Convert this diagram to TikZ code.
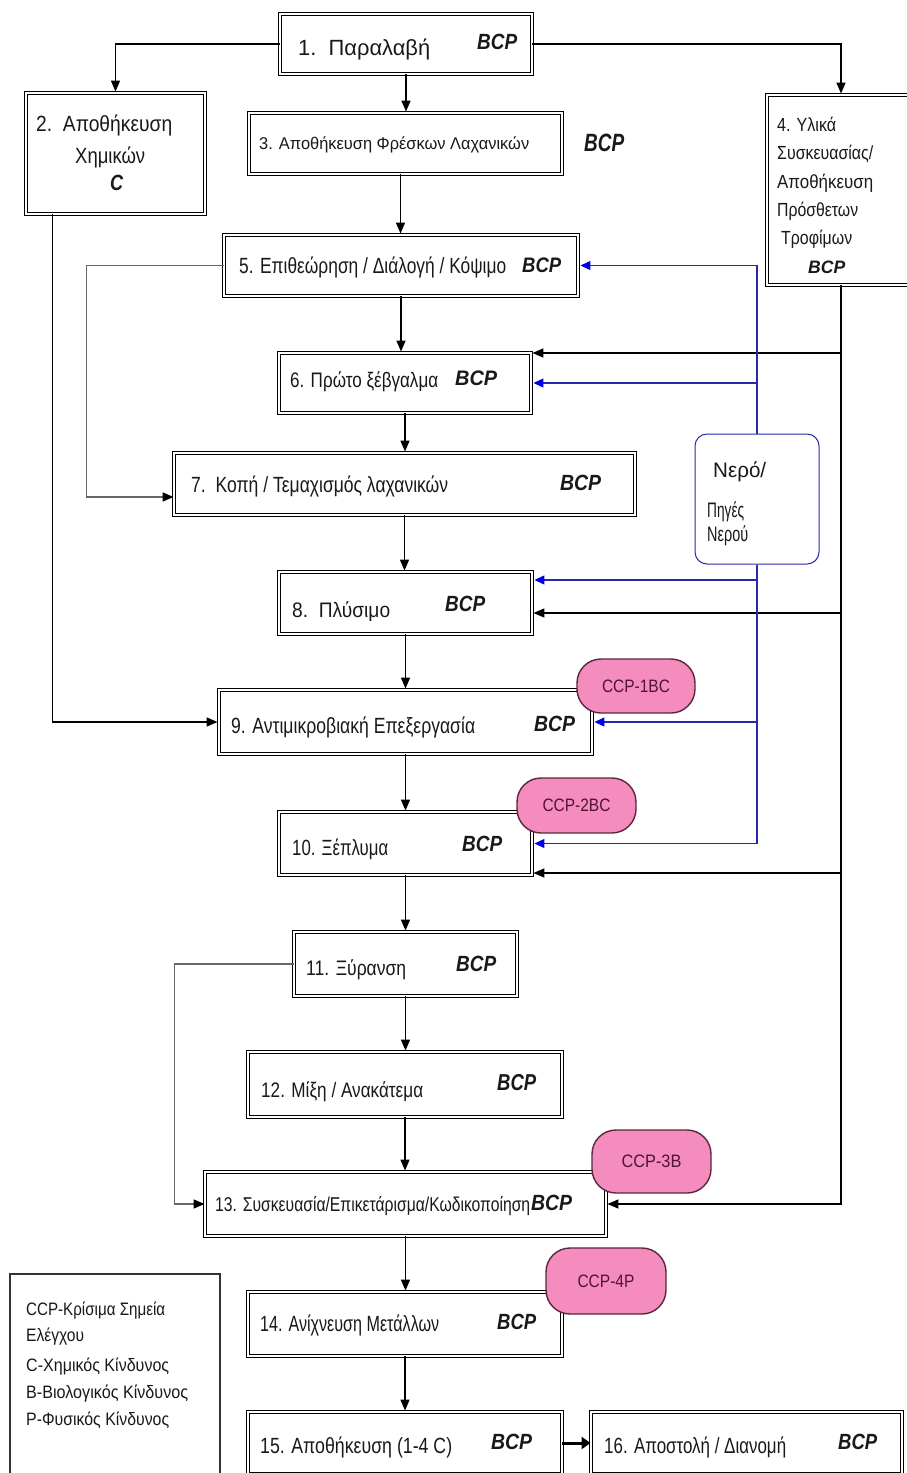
\documentclass[tikz,border=0pt]{standalone}
\usepackage{fontspec}
\setmainfont{Liberation Sans}
\usepackage{graphicx}
\usetikzlibrary{arrows.meta,shadows,calc}
\newcommand{\tw}[2]{\resizebox{#1pt}{\height}{#2}}
\definecolor{ccpfill}{RGB}{244,140,190}
\definecolor{ccpline}{RGB}{90,40,60}
\definecolor{ccptext}{RGB}{80,20,50}
\definecolor{wline}{RGB}{40,40,170}
\definecolor{warrow}{RGB}{0,0,230}
\begin{document}
\begin{tikzpicture}[x=1pt,y=-1pt,
  dbox/.style={draw=black, line width=1.3pt, double=white, double distance=1.8pt, fill=white, inner sep=0pt,
    drop shadow={shadow xshift=1.5pt, shadow yshift=-1.5pt, opacity=0.5, fill=black!60}},
  tx/.style={inner sep=0pt, anchor=base west, text=black!90, font=\fontsize{#1}{#1}\selectfont},
  tx/.default=21,
  bcp/.style={inner sep=0pt, anchor=base west, text=black!90, font=\fontsize{#1}{#1}\selectfont\bfseries\itshape},
  bcp/.default=22,
  ccp/.style={draw=ccpline, fill=ccpfill, line width=1.4pt, rounded corners=24pt, inner sep=0pt, text=ccptext, font=\fontsize{18}{18}\selectfont},
  arr/.style={draw=black, line width=1.5pt, -{Triangle[length=11pt,width=9pt]}, shorten >=1pt},
  garr/.style={draw=black!60, line width=1.6pt, -{Triangle[length=11pt,width=9pt,color=black]}},
  barr/.style={draw=wline, line width=1.2pt, -{Triangle[length=10pt,width=9pt,color=warrow]}, shorten >=2pt},
]
\useasboundingbox (0,0) rectangle (906,1473);
\fill[white] (0,0) rectangle (906,1473);

% boxes
\node[dbox, minimum width=251.6, minimum height=59.6] (b1) at (406,44) {};
\node[dbox, minimum width=178.6, minimum height=120.6] (b2) at (115.5,153.5) {};
\node[dbox, minimum width=312.6, minimum height=60.6] (b3) at (405.5,143.5) {};
\node[dbox, minimum width=147.6, minimum height=189.6] (b4) at (841,190) {};
\node[dbox, minimum width=353.6, minimum height=60.6] (b5) at (401,265.5) {};
\node[dbox, minimum width=251.6, minimum height=59.6] (b6) at (405,383) {};
\node[dbox, minimum width=460.6, minimum height=61.6] (b7) at (404.5,484) {};
\node[dbox, minimum width=252.6, minimum height=61.6] (b8) at (405.5,603) {};
\node[dbox, minimum width=372.6, minimum height=63.6] (b9) at (405.5,722) {};
\node[dbox, minimum width=252.6, minimum height=62.6] (b10) at (405.5,843.5) {};
\node[dbox, minimum width=222.6, minimum height=63.6] (b11) at (405.5,964) {};
\node[dbox, minimum width=313.6, minimum height=64.6] (b12) at (405,1084.5) {};
\node[dbox, minimum width=400.6, minimum height=63.6] (b13) at (405.5,1204) {};
\node[dbox, minimum width=313.6, minimum height=63.6] (b14) at (405,1324) {};
\node[dbox, minimum width=313.6, minimum height=61.6] (b15) at (405,1443) {};
\node[dbox, minimum width=310.6, minimum height=61.6] (b16) at (746.5,1443) {};

% legend and water
\node[draw=black!80, line width=1.5pt, minimum width=210, minimum height=204, inner sep=0pt] (leg) at (115,1376) {};
\node[draw=wline, line width=1pt, rounded corners=12pt, fill=white, minimum width=124, minimum height=130, inner sep=0pt] (wat) at (757,499) {};

% texts
\node[tx=22] (t1) at (298,55) {\tw{132}{1.\ \ Παραλαβή}};
\node[bcp=22] (p1) at (477,49) {\tw{40}{BCP}};
\node[tx=22] (t2a) at (36,131) {\tw{136}{2.\ \ Αποθήκευση}};
\node[tx=22] (t2b) at (75,163) {\tw{70}{Χημικών}};
\node[bcp=22] (t2c) at (110,190) {\tw{13}{C}};
\node[tx=17] (t3) at (259,149) {\tw{270}{3. Αποθήκευση Φρέσκων Λαχανικών}};
\node[bcp=25] (p3) at (584,151) {\tw{40}{BCP}};
\node[tx=19] (t4a) at (777,131) {\tw{59}{4. Υλικά}};
\node[tx=19] (t4b) at (777,159.5) {\tw{96}{Συσκευασίας/}};
\node[tx=19] (t4c) at (777,188) {\tw{96}{Αποθήκευση}};
\node[tx=19] (t4d) at (777,216) {\tw{81}{Πρόσθετων}};
\node[tx=19] (t4e) at (781,244) {\tw{71}{Τροφίμων}};
\node[bcp=18] (p4) at (808,273) {\tw{37}{BCP}};
\node[tx=22] (t5) at (239,273) {\tw{267}{5. Επιθεώρηση / Διάλογή / Κόψιμο}};
\node[bcp=21] (p5) at (522,272) {\tw{39}{BCP}};
\node[tx=21] (t6) at (290,387) {\tw{148}{6. Πρώτο ξέβγαλμα}};
\node[bcp=21] (p6) at (455,385) {\tw{42}{BCP}};
\node[tx=22] (t7) at (191,492) {\tw{257}{7.\ \ Κοπή / Τεμαχισμός λαχανικών}};
\node[bcp=22] (p7) at (560,490) {\tw{41}{BCP}};
\node[tx=21] (t8) at (292,617) {\tw{98}{8.\ \ Πλύσιμο}};
\node[bcp=22] (p8) at (445,611) {\tw{40}{BCP}};
\node[tx=22] (t9) at (231,733) {\tw{244}{9. Αντιμικροβιακή Επεξεργασία}};
\node[bcp=22] (p9) at (534,731) {\tw{41}{BCP}};
\node[tx=22] (t10) at (292,855) {\tw{96}{10. Ξέπλυμα}};
\node[bcp=22] (p10) at (462,851) {\tw{40}{BCP}};
\node[tx=21] (t11) at (306,975) {\tw{100}{11. Ξύρανση}};
\node[bcp=22] (p11) at (456,971) {\tw{40}{BCP}};
\node[tx=21] (t12) at (261,1097) {\tw{162}{12. Μίξη / Ανακάτεμα}};
\node[bcp=23] (p12) at (497,1090) {\tw{39}{BCP}};
\node[tx=20] (t13) at (215,1211) {\tw{315}{13. Συσκευασία/Επικετάρισμα/Κωδικοποίηση}};
\node[bcp=22] (p13) at (531,1210) {\tw{41}{BCP}};
\node[tx=22] (t14) at (260,1331) {\tw{179}{14. Ανίχνευση Μετάλλων}};
\node[bcp=22] (p14) at (497,1329) {\tw{39}{BCP}};
\node[tx=22] (t15) at (260,1453) {\tw{192}{15. Αποθήκευση (1-4 C)}};
\node[bcp=22] (p15) at (491,1449) {\tw{41}{BCP}};
\node[tx=22] (t16) at (604,1453) {\tw{182}{16. Αποστολή / Διανομή}};
\node[bcp=22] (p16) at (838,1449) {\tw{39}{BCP}};

\node[tx=18] (l1) at (26,1315) {\tw{139}{CCP-Κρίσιμα Σημεία}};
\node[tx=18] (l2) at (26,1341) {\tw{58}{Ελέγχου}};
\node[tx=18] (l3) at (26,1371) {\tw{143}{C-Χημικός Κίνδυνος}};
\node[tx=18] (l4) at (26,1398) {\tw{162}{B-Βιολογικός Κίνδυνος}};
\node[tx=18] (l5) at (26,1425) {\tw{143}{P-Φυσικός Κίνδυνος}};

\node[tx=21] (w1) at (713,477) {\tw{53}{Νερό/}};
\node[tx=21] (w2) at (707,517) {\tw{37}{Πηγές}};
\node[tx=21] (w3) at (707,541) {\tw{41}{Νερού}};

% black connectors
\draw[arr] (b1.west) -| (b2.north);
\draw[arr] (b1.east) -| (b4.north);
\draw[arr] (b1.south) -- (b1.south |- b3.north);
\draw[arr] ([xshift=-5pt]b3.south) -- ([xshift=-5pt]b3.south |- b5.north);
\draw[arr] (b5.south) -- (b5.south |- b6.north);
\draw[arr] (b6.south) -- (b6.south |- b7.north);
\draw[arr] (b7.south) -- (b7.south |- b8.north);
\draw[arr] (b8.south) -- (b8.south |- b9.north);
\draw[arr] (b9.south) -- (b9.south |- b10.north);
\draw[arr] (b10.south) -- (b10.south |- b11.north);
\draw[arr] (b11.south) -- (b11.south |- b12.north);
\draw[arr] (b12.south) -- (b12.south |- b13.north);
\draw[arr] (b13.south) -- (b13.south |- b14.north);
\draw[arr] (b14.south) -- (b14.south |- b15.north);
\draw[line width=3pt, -{Triangle[length=9pt,width=12pt]}] (b15.east) -- (b16.west);

\draw[garr] (b5.west) -- ++(-137,0) |- ([yshift=-13pt]b7.west);
\draw[arr] ([xshift=27pt]b2.south west) |- (b9.west);
\draw[garr] (b11.west) -- ++(-119,0) |- (b13.west);
\draw[arr] (b4.south) |- (b13.east);
\draw[arr] (b4.south |- 0,353) -- (b6.east |- 0,353);
\draw[arr] (b4.south |- 0,613) -- (b8.east |- 0,613);
\draw[arr] (b4.south |- 0,873) -- (b10.east |- 0,873);

% blue water connectors
\draw[barr] (wat.north) |- (b5.east);
\draw[barr] (wat.south) |- (b10.east);
\draw[barr] (wat.north |- b6.east) -- (b6.east);
\draw[barr] (wat.south |- 0,580) -- (b8.east |- 0,580);
\draw[barr] (wat.south |- b9.east) -- (b9.east);

% CCP badges
\node[ccp, minimum width=118, minimum height=54] (c1) at (636,686) {\tw{68}{CCP-1BC}};
\node[ccp, minimum width=119, minimum height=55] (c2) at (576.5,805.5) {\tw{68}{CCP-2BC}};
\node[ccp, minimum width=119, minimum height=63] (c3) at (651.5,1161.5) {\tw{60}{CCP-3B}};
\node[ccp, minimum width=120, minimum height=66] (c4) at (606,1281) {\tw{57}{CCP-4P}};
\end{tikzpicture}
\end{document}
